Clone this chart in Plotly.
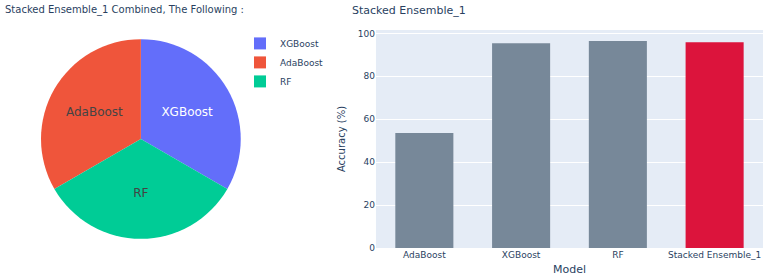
import plotly.graph_objects as go

pie_labels = ["XGBoost", "AdaBoost", "RF"]
pie_values = [1, 1, 1]
pie_colors = ["#636EFA", "#EF553B", "#00CC96"]

models = ["AdaBoost", "XGBoost", "RF", "Stacked Ensemble_1"]
accuracy = [53.6, 95.4, 96.5, 95.9]
bar_colors = ["#778899", "#778899", "#778899", "#DC143C"]

FONT = "DejaVu Sans, Verdana, sans-serif"
TXT = "#2a3f5f"

fig = go.Figure()
fig.add_trace(go.Pie(
    labels=pie_labels, values=pie_values, sort=False, direction="counterclockwise",
    rotation=0,
    marker=dict(colors=pie_colors), textinfo="label",
    textfont=dict(size=12, family=FONT),
    domain=dict(x=[0.0475, 0.311], y=[0, 1]), showlegend=True,
))
fig.add_trace(go.Bar(
    x=models, y=accuracy, marker=dict(color=bar_colors, line=dict(width=0)),
    showlegend=False, xaxis="x", yaxis="y",
))
fig.update_layout(
    width=767, height=279,
    margin=dict(l=5, r=4, t=30, b=31),
    font=dict(family=FONT, color=TXT, size=9),
    paper_bgcolor="white", plot_bgcolor="#E5ECF6",
    bargap=0.4,
    xaxis=dict(domain=[0.4894, 1], title=dict(text="Model", font=dict(size=11), standoff=6),
               tickfont=dict(size=9), showgrid=False),
    yaxis=dict(title=dict(text="Accuracy (%)", font=dict(size=10), standoff=10),
               tickfont=dict(size=9), gridcolor="white", zeroline=False,
               anchor="x"),
    legend=dict(x=0.31, y=1.005, xanchor="left", yanchor="top",
                font=dict(size=9), bgcolor="rgba(0,0,0,0)", tracegroupgap=0),
    annotations=[
        dict(text="Stacked Ensemble_1 Combined, The Following :", xref="paper", yref="paper",
             x=-0.003, y=1, xanchor="left", yanchor="middle", yshift=20, showarrow=False,
             font=dict(size=10, color=TXT)),
        dict(text="Stacked Ensemble_1", xref="paper", yref="paper",
             x=0.455, y=1, xanchor="left", yanchor="middle", yshift=20, showarrow=False,
             font=dict(size=11, color=TXT)),
    ],
)
fig.write_html("out.html")
